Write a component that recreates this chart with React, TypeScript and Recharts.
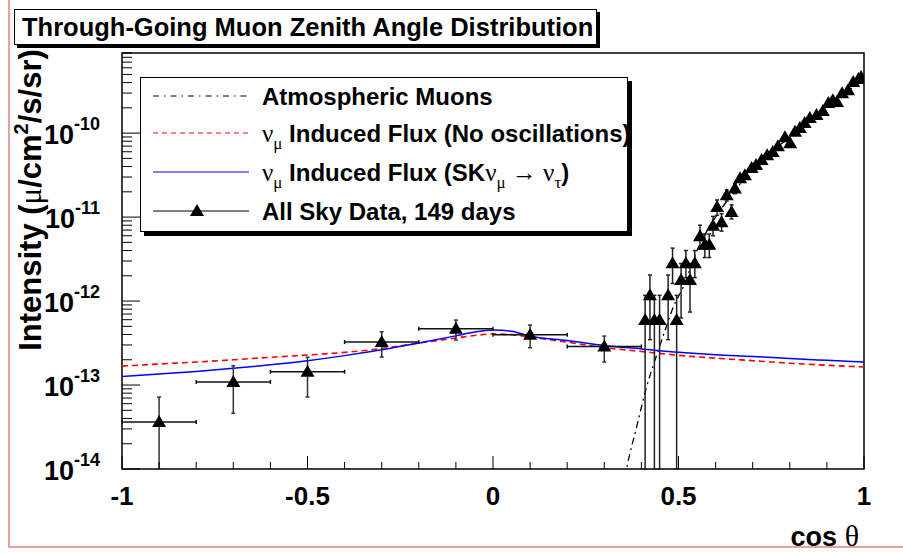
import React from 'react';
import { ComposedChart, Line, Scatter, XAxis, YAxis, ErrorBar, ReferenceArea } from 'recharts';

const SANS = '"Liberation Sans", Arial, Helvetica, sans-serif';
const SERIF = '"Liberation Serif", "Times New Roman", serif';

// axis ticks
const X_TICKS = [-1, -0.9, -0.8, -0.7, -0.6, -0.5, -0.4, -0.3, -0.2, -0.1, 0, 0.1, 0.2, 0.3, 0.4, 0.5, 0.6, 0.7, 0.8, 0.9, 1];
const X_LABELS = [-1, -0.5, 0, 0.5, 1];
const Y_DECADES = [-14, -13, -12, -11, -10];
const Y_MANTISSAS = [1, 2, 3, 4, 5, 6, 7, 8, 9];
const Y_MIN = 1e-14;
const Y_MAX = 9e-10;
const Y_TICKS = Y_DECADES.flatMap((d) => Y_MANTISSAS.map((m) => m * Math.pow(10, d))).filter((v) => v <= Y_MAX);

// model curves
const CURVE_COS = [-1, -0.9, -0.8, -0.7, -0.6, -0.5, -0.4, -0.3, -0.2, -0.1, -0.05, 0, 0.05, 0.1, 0.2, 0.3, 0.4, 0.5, 0.6, 0.7, 0.8, 0.9, 1];
const OSC_FLUX = [1.26e-13, 1.35e-13, 1.45e-13, 1.58e-13, 1.74e-13, 1.95e-13, 2.24e-13, 2.63e-13, 3.16e-13, 3.85e-13, 4.27e-13, 4.52e-13, 4.37e-13, 3.8e-13, 3.39e-13, 2.95e-13, 2.69e-13, 2.45e-13, 2.29e-13, 2.19e-13, 2.07e-13, 1.97e-13, 1.88e-13];
const NO_OSC_FLUX = [1.68e-13, 1.78e-13, 1.88e-13, 2.0e-13, 2.14e-13, 2.28e-13, 2.45e-13, 2.72e-13, 3.16e-13, 3.63e-13, 3.89e-13, 4.05e-13, 3.98e-13, 3.72e-13, 3.24e-13, 2.79e-13, 2.51e-13, 2.26e-13, 2.09e-13, 1.95e-13, 1.82e-13, 1.72e-13, 1.64e-13];
const ATM_COS = [0.355, 0.363, 0.387, 0.414, 0.437, 0.464, 0.486, 0.513, 0.55, 0.6, 0.65, 0.7, 0.8, 0.9, 1];
const ATM_FLUX = [7.9e-15, 1.17e-14, 3.16e-14, 9.5e-14, 2.0e-13, 4.5e-13, 8.5e-13, 1.48e-12, 4.0e-12, 1.0e-11, 2.0e-11, 3.8e-11, 8.9e-11, 2.0e-10, 4.5e-10];

// lower error edge for bins whose error reaches zero (drawn down to the frame)
const FLOOR = Y_MIN;

// data: wide upward-going bins (with cos theta half width)
const WIDE_COS = [-0.9, -0.7, -0.5, -0.3, -0.1, 0.1, 0.3];
const WIDE_HALF = [0.1, 0.1, 0.1, 0.1, 0.1, 0.1, 0.1];
const WIDE_FLUX = [3.63e-14, 1.09e-13, 1.44e-13, 3.25e-13, 4.68e-13, 3.98e-13, 2.88e-13];
const WIDE_LO = [FLOOR, 4.6e-14, 7.2e-14, 2.15e-13, 3.44e-13, 2.78e-13, 1.88e-13];
const WIDE_HI = [7.2e-14, 1.7e-13, 2.14e-13, 4.3e-13, 5.94e-13, 5.18e-13, 3.83e-13];

// data: fine bins near the horizon and downward-going
const FINE_COS = [0.41, 0.423, 0.435, 0.449, 0.472, 0.484, 0.495, 0.507, 0.52, 0.531, 0.544, 0.558, 0.571, 0.583, 0.593, 0.604, 0.616, 0.63, 0.643, 0.652,
  0.666, 0.679, 0.697, 0.709, 0.724, 0.739, 0.754, 0.768, 0.787, 0.801, 0.814, 0.827, 0.84, 0.854, 0.872, 0.889, 0.904, 0.916, 0.927, 0.941, 0.957, 0.971, 0.985, 0.992];
const FINE_FLUX = [5.94e-13, 1.17e-12, 5.94e-13, 5.94e-13, 1.17e-12, 2.82e-12, 5.94e-13, 1.78e-12, 2.82e-12, 1.78e-12, 2.82e-12, 5.9e-12, 4.7e-12, 4.7e-12, 7.9e-12, 1.32e-11, 8.7e-12, 1.82e-11, 1.15e-11, 2.19e-11,
  2.91e-11, 3.16e-11, 3.83e-11, 4.16e-11, 4.78e-11, 5.47e-11, 5.98e-11, 7.0e-11, 8.95e-11, 7.6e-11, 1.035e-10, 1.15e-10, 1.32e-10, 1.51e-10, 1.64e-10, 1.83e-10, 2.28e-10, 2.47e-10, 2.34e-10, 2.99e-10, 3.25e-10, 4.05e-10, 4.4e-10, 4.65e-10];
const FINE_LO = [FLOOR, 3.47e-13, FLOOR, FLOOR, 3.47e-13, 1.62e-12, FLOOR, 6.3e-13, 1.9e-12, 7.4e-13, 1.9e-12, 4.2e-12, 3.3e-12, 3.3e-12, 6.0e-12, 1.05e-11, 6.8e-12, 1.55e-11, 9.5e-12, 1.9e-11,
  2.7e-11, 2.95e-11, 3.6e-11, 3.95e-11, 4.55e-11, 5.2e-11, 5.7e-11, 6.7e-11, 8.6e-11, 7.3e-11, 1.0e-10, 1.11e-10, 1.27e-10, 1.46e-10, 1.59e-10, 1.77e-10, 2.21e-10, 2.4e-10, 2.27e-10, 2.9e-10, 3.15e-10, 3.93e-10, 4.27e-10, 4.52e-10];
const FINE_HI = [1.17e-12, 2.04e-12, 1.17e-12, 1.17e-12, 2.04e-12, 4.27e-12, 1.17e-12, 2.8e-12, 4.0e-12, 2.8e-12, 4.0e-12, 8.0e-12, 6.3e-12, 6.3e-12, 1.02e-11, 1.6e-11, 1.1e-11, 2.1e-11, 1.4e-11, 2.5e-11,
  3.12e-11, 3.38e-11, 4.06e-11, 4.38e-11, 5.0e-11, 5.75e-11, 6.26e-11, 7.3e-11, 9.3e-11, 7.9e-11, 1.07e-10, 1.19e-10, 1.37e-10, 1.56e-10, 1.69e-10, 1.89e-10, 2.35e-10, 2.54e-10, 2.41e-10, 3.08e-10, 3.35e-10, 4.17e-10, 4.53e-10, 4.78e-10];

const oscData = CURVE_COS.map((x, i) => ({ x, y: OSC_FLUX[i] }));
const noOscData = CURVE_COS.map((x, i) => ({ x, y: NO_OSC_FLUX[i] }));
const atmData = ATM_COS.map((x, i) => ({ x, y: ATM_FLUX[i] }));
const wideData = WIDE_COS.map((x, i) => ({
  x,
  y: WIDE_FLUX[i],
  ex: WIDE_HALF[i],
  ey: [WIDE_FLUX[i] - WIDE_LO[i], WIDE_HI[i] - WIDE_FLUX[i]],
}));
const fineData = FINE_COS.map((x, i) => ({
  x,
  y: FINE_FLUX[i],
  ey: [FINE_FLUX[i] - FINE_LO[i], FINE_HI[i] - FINE_FLUX[i]],
}));

const Triangle = (props: any) => {
  const { cx, cy } = props;
  if (cx == null || cy == null) return null;
  return <polygon points={`${cx},${cy - 7} ${cx - 7},${cy + 5} ${cx + 7},${cy + 5}`} fill="#000" />;
};

const XTick = (props: any) => {
  const { x, y, payload } = props;
  const v = payload.value;
  const major = X_LABELS.some((l) => Math.abs(l - v) < 1e-6);
  return (
    <g>
      <line x1={x} x2={x} y1={y} y2={y - (major ? 13 : 7)} stroke="#000" strokeWidth={1} />
      {major && (
        <text x={x} y={y + 36} textAnchor="middle" fontFamily={SANS} fontWeight="bold" fontSize={26} fill="#000">
          {Math.abs(v) < 1e-9 ? '0' : String(v)}
        </text>
      )}
    </g>
  );
};

const YTick = (props: any) => {
  const { x, y, payload } = props;
  const e = Math.log10(payload.value);
  const major = Math.abs(e - Math.round(e)) < 1e-6;
  return (
    <g>
      <line x1={x} x2={x + (major ? 18 : 10)} y1={y} y2={y} stroke="#000" strokeWidth={1} />
      {major && (
        <text x={x - 22} y={y + 11} textAnchor="end" fontFamily={SANS} fontWeight="bold" fill="#000">
          <tspan fontSize={27}>10</tspan>
          <tspan fontSize={18} dy={-14}>{String(Math.round(e))}</tspan>
        </text>
      )}
    </g>
  );
};

const Nu = ({ sub }: { sub: string }) => (
  <>
    <tspan fontFamily={SERIF} fontWeight="normal" fontSize={25}>ν</tspan>
    <tspan fontFamily={SERIF} fontWeight="normal" fontSize={17} dy={7}>{sub}</tspan>
    <tspan dy={-7}> </tspan>
  </>
);

const LegendBox = () => (
  <div style={{ position: 'absolute', left: 140, top: 77, width: 488, height: 155, background: '#fff', border: '1px solid #000', boxShadow: '4px 4px 0 #000', boxSizing: 'border-box' }}>
    <svg width={500} height={153} style={{ display: 'block', overflow: 'visible' }}>
      <g fontFamily={SANS} fontWeight="bold" fontSize={24} fill="#000">
        <line x1={12} x2={108} y1={18} y2={18} stroke="#000" strokeWidth={1} strokeDasharray="6 5 1.5 5" />
        <text x={121} y={27}>Atmospheric Muons</text>
        <line x1={12} x2={108} y1={55} y2={55} stroke="#f00" strokeWidth={1} strokeDasharray="5 4" />
        <text x={121} y={64}><Nu sub="μ" />Induced Flux (No oscillations)</text>
        <line x1={12} x2={108} y1={94} y2={94} stroke="#00f" strokeWidth={1.2} />
        <text x={121} y={103}>
          <Nu sub="μ" />Induced Flux (SK
          <tspan fontFamily={SERIF} fontWeight="normal" fontSize={25}>ν</tspan>
          <tspan fontFamily={SERIF} fontWeight="normal" fontSize={17} dy={7}>μ</tspan>
          <tspan fontFamily={SERIF} fontWeight="normal" fontSize={25} dy={-7}> → ν</tspan>
          <tspan fontFamily={SERIF} fontWeight="normal" fontSize={17} dy={7}>τ</tspan>
          <tspan dy={-7}>)</tspan>
        </text>
        <line x1={12} x2={108} y1={133} y2={133} stroke="#000" strokeWidth={1} />
        <polygon points="56,126 49,138 63,138" fill="#000" />
        <text x={121} y={142}>All Sky Data, 149 days</text>
      </g>
    </svg>
  </div>
);

export default function App() {
  return (
    <div style={{ position: 'absolute', left: 0, top: 0, width: 903, height: 554, background: '#fff', overflow: 'hidden' }}>
      <div style={{ position: 'absolute', left: 8, top: -4, width: 900, height: 552, borderLeft: '2px solid #e8a0a0', borderBottom: '2px solid #e8a0a0', boxSizing: 'border-box' }} />
      <ComposedChart width={903} height={554} margin={{ top: 53, right: 39, left: 0, bottom: 0 }}>
        <XAxis dataKey="x" type="number" domain={[-1, 1]} allowDataOverflow ticks={X_TICKS} interval={0}
          tickLine={false} tickSize={0} tickMargin={0} tick={<XTick />} height={85} axisLine={false} />
        <YAxis dataKey="y" type="number" scale="log" domain={[Y_MIN, Y_MAX]} allowDataOverflow ticks={Y_TICKS} interval={0}
          tickLine={false} tickSize={0} tickMargin={0} tick={<YTick />} width={122} axisLine={false} />
        <ReferenceArea x1={-1} x2={1} y1={Y_MIN} y2={Y_MAX} fill="none" stroke="#000" strokeWidth={1.5} ifOverflow="visible" />
        <Line data={atmData} dataKey="y" type="monotone" stroke="#000" strokeWidth={1.3} strokeDasharray="7 4 2 4" dot={false} isAnimationActive={false} />
        <Line data={noOscData} dataKey="y" type="monotone" stroke="#f00" strokeWidth={1.6} strokeDasharray="6 4" dot={false} isAnimationActive={false} />
        <Line data={oscData} dataKey="y" type="monotone" stroke="#00f" strokeWidth={1.5} dot={false} isAnimationActive={false} />
        <Scatter data={wideData} dataKey="y" shape={<Triangle />} isAnimationActive={false}>
          <ErrorBar dataKey="ex" direction="x" width={2} stroke="#111" strokeWidth={1.5} />
          <ErrorBar dataKey="ey" direction="y" width={2} stroke="#333" strokeWidth={1.5} />
        </Scatter>
        <Scatter data={fineData} dataKey="y" shape={<Triangle />} isAnimationActive={false}>
          <ErrorBar dataKey="ey" direction="y" width={2} stroke="#222" strokeWidth={1.5} />
        </Scatter>
      </ComposedChart>
      <LegendBox />
      <div style={{ position: 'absolute', left: 14, top: 9, width: 583, height: 36, border: '1px solid #000', boxShadow: '3px 3px 0 #000', boxSizing: 'border-box', background: '#fff',
        fontFamily: SANS, fontWeight: 'bold', fontSize: 25.5, lineHeight: '34px', paddingLeft: 7, color: '#000', whiteSpace: 'nowrap' }}>
        Through-Going Muon Zenith Angle Distribution
      </div>
      <svg width={903} height={554} style={{ position: 'absolute', left: 0, top: 0, pointerEvents: 'none' }}>
        <text transform="rotate(-90 41 200)" x={41} y={200} textAnchor="middle" fontFamily={SANS} fontWeight="bold" fontSize={31} fill="#000">
          Intensity (<tspan fontFamily={SERIF} fontWeight="normal">μ</tspan>/cm<tspan fontSize={20} dy={-13}>2</tspan><tspan dy={13}>/s/sr)</tspan>
        </text>
        <text x={859} y={546} textAnchor="end" fontFamily={SANS} fontWeight="bold" fontSize={27} fill="#000">
          cos <tspan fontFamily={SERIF} fontWeight="normal" fontSize={30}>θ</tspan>
        </text>
      </svg>
    </div>
  );
}
